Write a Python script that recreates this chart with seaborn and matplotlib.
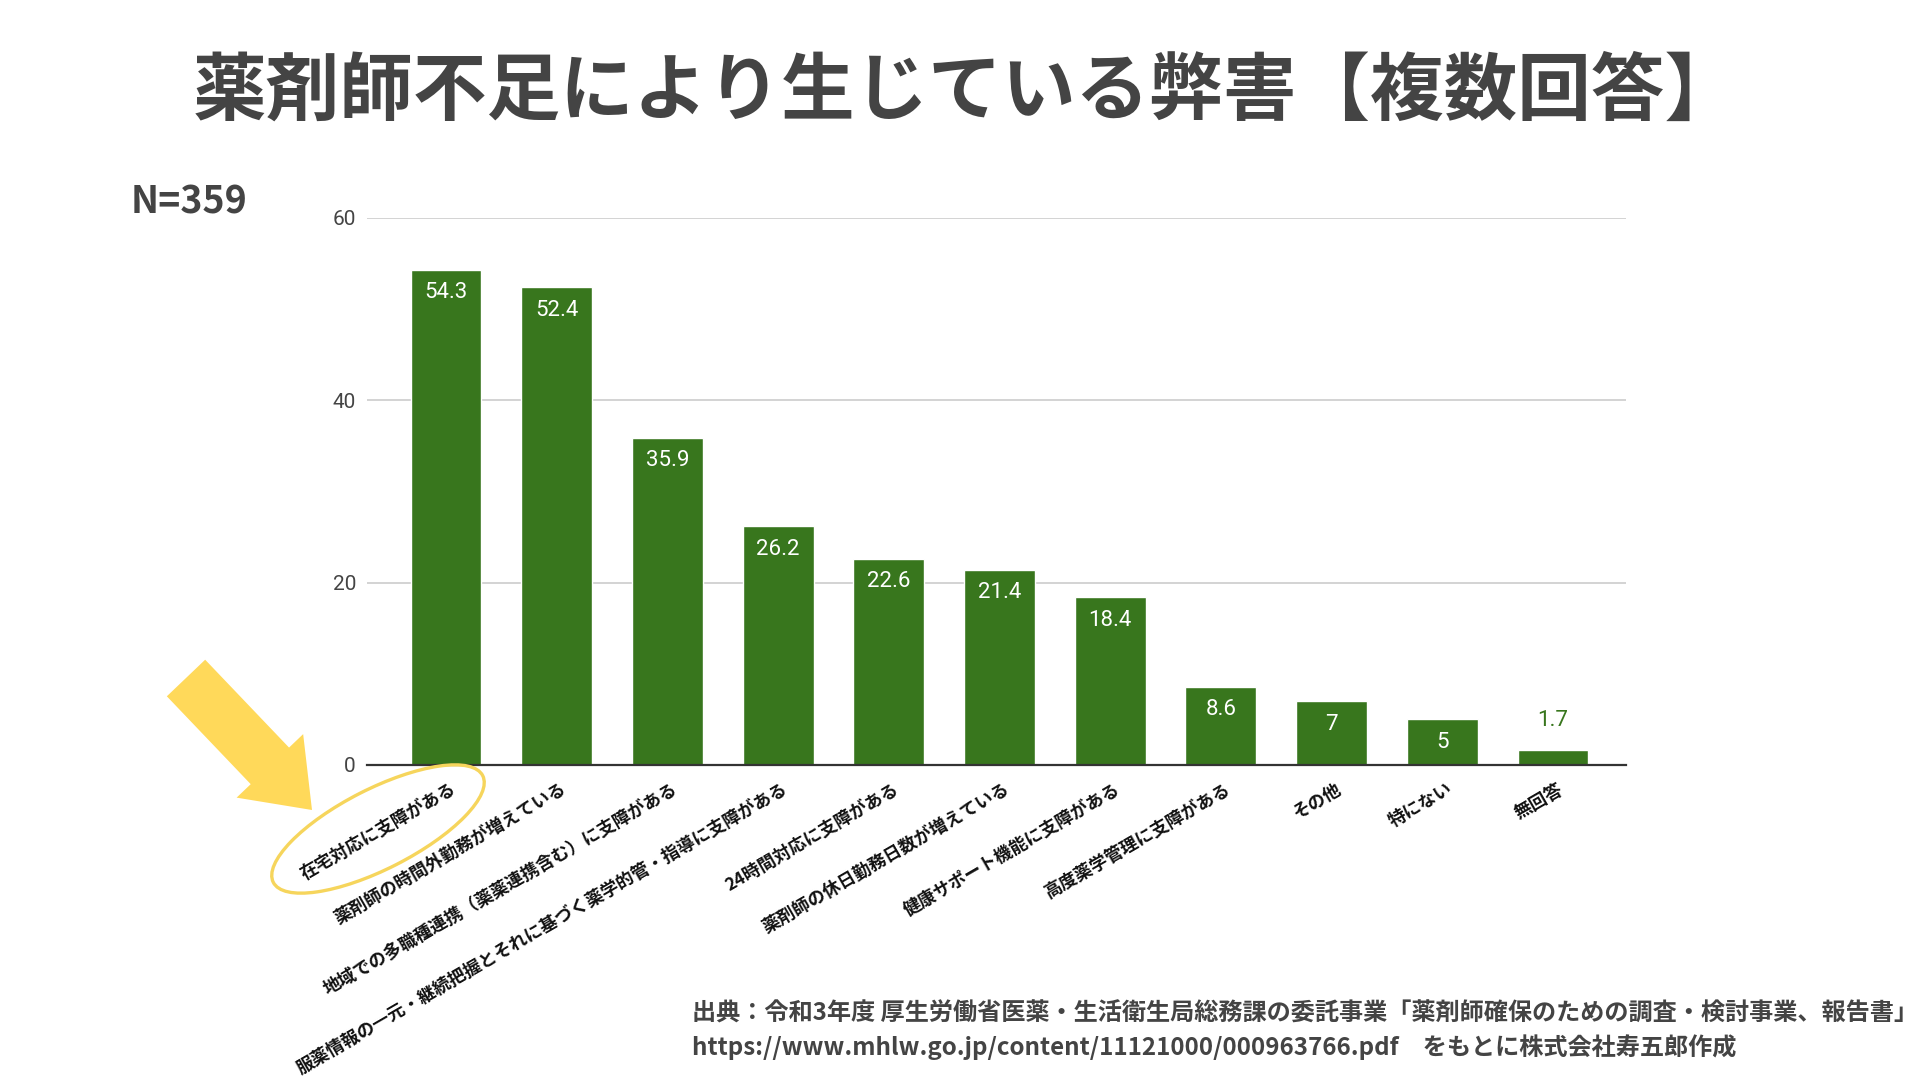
import matplotlib
matplotlib.use('Agg')
import matplotlib.pyplot as plt
import matplotlib.transforms as mtransforms
from matplotlib.patches import FancyArrow, Ellipse
import seaborn as sns
import pandas as pd

# data
categories = [
    '在宅対応に支障がある',
    '薬剤師の時間外勤務が増えている',
    '地域での多職種連携（薬薬連携含む）に支障がある',
    '服薬情報の一元・継続把握とそれに基づく薬学的管・指導に支障がある',
    '24時間対応に支障がある',
    '薬剤師の休日勤務日数が増えている',
    '健康サポート機能に支障がある',
    '高度薬学管理に支障がある',
    'その他',
    '特にない',
    '無回答',
]
values = [54.3, 52.4, 35.9, 26.2, 22.6, 21.4, 18.4, 8.6, 7, 5, 1.7]
value_labels = ['54.3', '52.4', '35.9', '26.2', '22.6', '21.4', '18.4', '8.6', '7', '5', '1.7']
yticks = [0, 20, 40, 60]

title = '薬剤師不足により生じている弊害【複数回答】'
n_text = 'N=359'
source_1 = '出典：令和3年度 厚生労働省医薬・生活衛生局総務課の委託事業「薬剤師確保のための調査・検討事業、報告書」'
source_2 = 'https://www.mhlw.go.jp/content/11121000/000963766.pdf　をもとに株式会社寿五郎作成'

green = '#38761d'
yellow = '#FFD95A'
grey_text = '#444444'

sns.set_theme(style='white')
plt.rcParams['font.family'] = ['Noto Sans CJK JP', 'DejaVu Sans']

df = pd.DataFrame({'cat': categories, 'val': values})

W, H = 1920, 1080
fig = plt.figure(figsize=(19.2, 10.8), dpi=100)

# plot area in pixel positions
left, right, top, bottom = 367, 1626, 218, 765
ax = fig.add_axes([left / W, (H - bottom) / H, (right - left) / W, (bottom - top) / H])

sns.barplot(data=df, x='cat', y='val', color=green, saturation=1, width=0.64, ax=ax, zorder=3)

ax.set_ylim(0, 60)
ax.set_xlim(-0.714, 10.66)
ax.set_yticks(yticks)
ax.set_yticklabels([str(t) for t in yticks], family=['Roboto', 'DejaVu Sans'], fontsize=15, color=grey_text)
ax.yaxis.grid(True, color='#cccccc', linewidth=1.2, zorder=0)
ax.set_xlabel('')
ax.set_ylabel('')
for s in ['top', 'right', 'left']:
    ax.spines[s].set_visible(False)
ax.spines['bottom'].set_color('#333333')
ax.spines['bottom'].set_linewidth(1.6)
ax.spines['bottom'].set_zorder(4)
ax.tick_params(axis='both', length=0)
ax.tick_params(axis='y', pad=8)
ax.tick_params(axis='x', pad=11)

shift = mtransforms.ScaledTranslation(4 / 100, 0, fig.dpi_scale_trans)
for lab in ax.get_xticklabels():
    lab.set_rotation(30)
    lab.set_ha('right')
    lab.set_va('top')
    lab.set_rotation_mode('anchor')
    lab.set_fontsize(12.7)
    lab.set_fontweight('bold')
    lab.set_color('#111111')
    lab.set_transform(lab.get_transform() + shift)

# value labels: inside the bar top, or above short bars
for i, (v, t) in enumerate(zip(values, value_labels)):
    if v > 4:
        ax.annotate(t, (i, v), xytext=(0, -9), textcoords='offset points',
                    ha='center', va='top', color='white', fontsize=16,
                    family=['Roboto', 'DejaVu Sans'], zorder=5)
    else:
        ax.annotate(t, (i, v), xytext=(0, 13), textcoords='offset points',
                    ha='center', va='bottom', color=green, fontsize=16,
                    family=['Roboto', 'DejaVu Sans'], zorder=5)

# overlay in pixel coordinates for texts and highlight marks
ov = fig.add_axes([0, 0, 1, 1], zorder=10)
ov.set_xlim(0, W)
ov.set_ylim(H, 0)
ov.axis('off')
ov.patch.set_alpha(0)

ov.text(966, 92, title, ha='center', va='center', fontsize=53, fontweight='bold', color=grey_text)
ov.text(131, 202, n_text, ha='left', va='center', fontsize=27, fontweight='bold', color=grey_text)
ov.text(692, 1014, source_1, ha='left', va='center', fontsize=17.4, fontweight='bold', color=grey_text)
ov.text(692, 1047, source_2, ha='left', va='center', fontsize=17.4, fontweight='bold', color=grey_text)

ov.add_patch(FancyArrow(186, 678, 126, 132, width=53, head_width=92, head_length=61,
                        length_includes_head=True, color=yellow, linewidth=0))
ov.add_patch(Ellipse((378, 829), 235, 80, angle=-27, fill=False, edgecolor='#F6D55C', linewidth=2.4))

fig.savefig('out.png', dpi=100, facecolor='white')
